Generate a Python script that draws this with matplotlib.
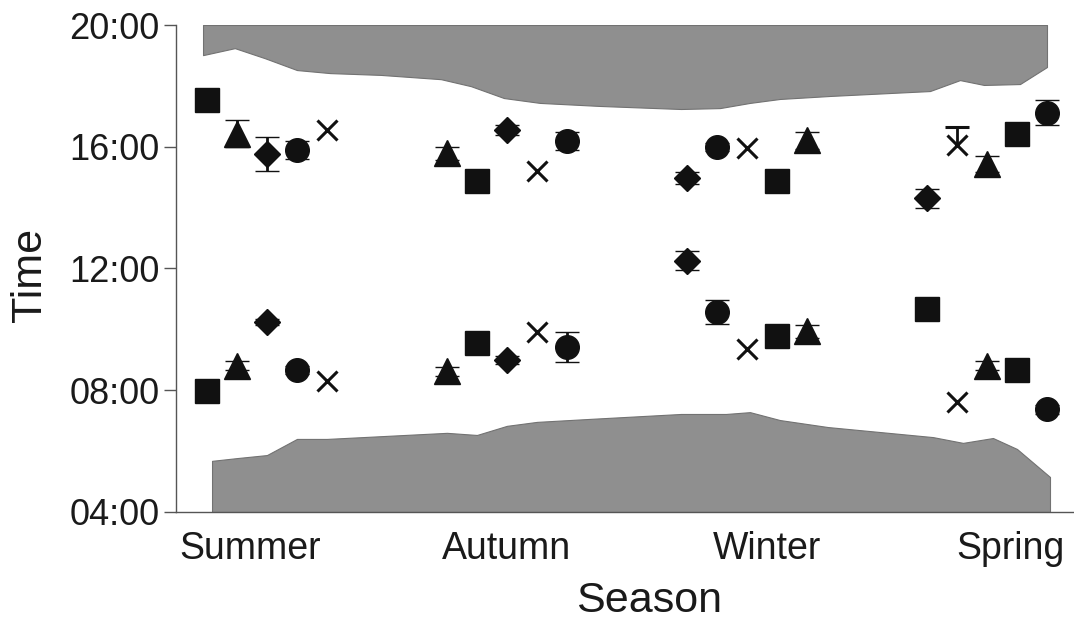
import matplotlib.pyplot as plt
import numpy as np

plt.rcParams['font.family'] = ['Liberation Sans', 'DejaVu Sans']

# season labels and where they sit along the x axis
seasons = ['Summer', 'Autumn', 'Winter', 'Spring']
season_pos = [1.43, 10.0, 18.67, 26.77]

hour_ticks = [4, 8, 12, 16, 20]
hour_labels = ['04:00', '08:00', '12:00', '16:00', '20:00']

# five sampling slots per season
slots = [0, 1, 2, 3, 4, 8, 9, 10, 11, 12, 16, 17, 18, 19, 20, 24, 25, 26, 27, 28]

# evening (last activity) times, hours
evening_marker = ['s', '^', 'D', 'o', 'x',
                  '^', 's', 'D', 'x', 'o',
                  'D', 'o', 'x', 's', '^',
                  'D', 'x', '^', 's', 'o']
evening_time = [17.53, 16.43, 15.76, 15.90, 16.55,
                15.78, 14.86, 16.55, 15.20, 16.20,
                14.97, 15.99, 15.97, 14.87, 16.22,
                14.30, 16.07, 15.43, 16.43, 17.12]
evening_err = [0.15, 0.44, 0.56, 0.30, 0.0,
               0.20, 0.10, 0.15, 0.0, 0.30,
               0.20, 0.12, 0.0, 0.10, 0.28,
               0.30, 0.57, 0.25, 0.15, 0.40]

# morning (first activity) times, hours
morning_marker = ['s', '^', 'D', 'o', 'x',
                  '^', 's', 'D', 'x', 'o',
                  'D', 'o', 'x', 's', '^',
                  's', 'x', '^', 's', 'o']
morning_time = [7.97, 8.80, 10.24, 8.66, 8.30,
                8.62, 9.55, 8.99, 9.90, 9.42,
                12.26, 10.57, 9.35, 9.78, 9.93,
                10.67, 7.61, 8.80, 8.66, 7.38]
morning_err = [0.15, 0.15, 0.10, 0.12, 0.0,
               0.15, 0.15, 0.12, 0.0, 0.48,
               0.30, 0.40, 0.0, 0.12, 0.20,
               0.15, 0.0, 0.15, 0.15, 0.15]

# sunrise / sunset curves
rise_x = [0.17, 1, 2, 3, 4, 6, 8, 9, 10, 11, 12.8, 15.8, 17.3, 18.1, 19.1, 20.7, 24.2, 25.2, 26.2, 27, 28.1]
sunrise = [5.68, 5.77, 5.87, 6.40, 6.40, 6.50, 6.60, 6.53, 6.83, 6.96, 7.06, 7.22, 7.22, 7.28, 7.02,
           6.79, 6.46, 6.27, 6.43, 6.07, 5.15]
set_x = [-0.13, 0.93, 1.93, 3, 4.1, 5.8, 7.8, 8.8, 9.9, 11.1, 13.1, 15.8, 17.1, 18.1, 19.1, 20.8, 24.1,
         25.1, 25.9, 27.1, 28.0]
sunset = [19.01, 19.24, 18.91, 18.52, 18.42, 18.36, 18.22, 17.99, 17.60, 17.44, 17.34, 17.24, 17.27,
          17.44, 17.57, 17.67, 17.83, 18.19, 18.03, 18.06, 18.62]

sizes = {'s': 17, '^': 19, 'D': 13, 'o': 17, 'x': 14}
ink = '#111111'

fig = plt.figure(figsize=(10.74, 6.19), dpi=100)
ax = fig.add_axes([0.1639, 0.1729, 0.8361, 0.7867])

# night shading
ax.fill_between(rise_x, 4, sunrise, color='#8f8f8f', edgecolor='#727272', linewidth=0.8, zorder=1)
ax.fill_between(set_x, sunset, 20, color='#8f8f8f', edgecolor='#727272', linewidth=0.8, zorder=1)


def draw(times, errs, markers):
    for x, y, e, m in zip(slots, times, errs, markers):
        if m == 'x':
            # crosses only carry an upper bar, when they carry one at all
            ax.plot(x, y, 'x', color=ink, ms=sizes[m], mew=2.2, zorder=3)
            if e > 0:
                _, caps, _ = ax.errorbar(x, y, yerr=[[0], [e]], fmt='none', ecolor=ink,
                                         elinewidth=2, capsize=8.3, capthick=2.2, zorder=3)
                caps[0].set_visible(False)
            continue
        ax.errorbar(x, y, yerr=e, fmt=m, color=ink, ms=sizes[m], mew=1, mec=ink, mfc=ink,
                    ecolor=ink, elinewidth=2, capsize=8.3, capthick=2.2, zorder=3)


draw(evening_time, evening_err, evening_marker)
draw(morning_time, morning_err, morning_marker)

ax.set_xlim(-1.03, 28.9)
ax.set_ylim(4, 20)
ax.set_yticks(hour_ticks)
ax.set_yticklabels(hour_labels)
ax.set_xticks(season_pos)
ax.set_xticklabels(seasons)

ax.spines['top'].set_visible(False)
ax.spines['right'].set_visible(False)
for s in ['left', 'bottom']:
    ax.spines[s].set_color('#555555')
    ax.spines[s].set_linewidth(1.0)
    ax.spines[s].set_zorder(2)

ax.tick_params(axis='y', direction='out', length=9, width=1, color='#555555',
               labelsize=26, pad=3, labelcolor='#1a1a1a')
ax.tick_params(axis='x', length=0, labelsize=27, pad=14, labelcolor='#1a1a1a')

ax.set_xlabel('Season', fontsize=31, color='#1a1a1a')
ax.set_ylabel('Time', fontsize=31, color='#1a1a1a')
ax.xaxis.set_label_coords(0.527, -0.142)
ax.yaxis.set_label_coords(-0.14, 0.487)

fig.savefig('out.png', dpi=100)
